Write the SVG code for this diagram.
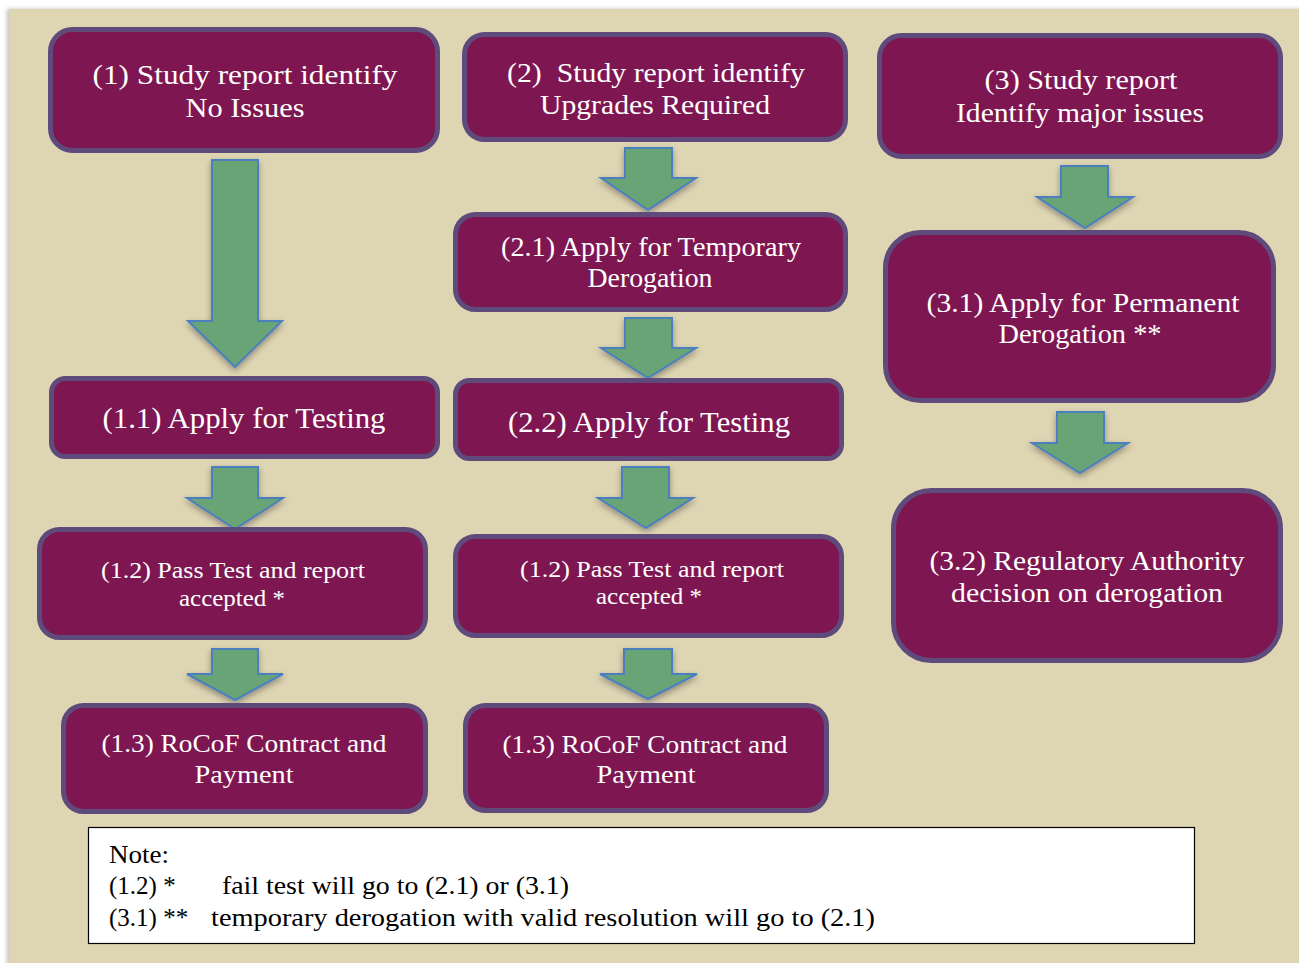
<svg xmlns="http://www.w3.org/2000/svg" width="1299" height="963" viewBox="0 0 1299 963">
<style>
.box{fill:#7E1751;stroke:#5E4A7B;stroke-width:5}
.arr{fill:#68A475;stroke:#4C7FC0;stroke-width:2;stroke-linejoin:miter}
.t{font-family:"Liberation Serif","Times New Roman",serif;fill:#FFFFFF;text-anchor:middle}
.n{font-family:"Liberation Serif","Times New Roman",serif;fill:#000000;font-size:25px}
</style>
<defs>
<filter id="sh" x="-30%" y="-30%" width="160%" height="170%">
<feDropShadow dx="0" dy="3" stdDeviation="3" flood-color="#000" flood-opacity="0.35"/>
</filter>
<filter id="pg" x="-5%" y="-5%" width="110%" height="110%">
<feDropShadow dx="-2" dy="0" stdDeviation="2" flood-color="#000" flood-opacity="0.25"/>
</filter>
</defs>
<rect x="0" y="0" width="1299" height="963" fill="#FFFFFF"/>
<rect x="9" y="9" width="1300" height="970" fill="#DED5B3" filter="url(#pg)"/>

<g id="connectors">
<polygon class="arr" filter="url(#sh)" points="212,160 258,160 258,321 282,321 235,367 188,321 212,321"/>
<polygon class="arr" filter="url(#sh)" points="212,467 258,467 258,498 283,498 235,529 187,498 212,498"/>
<polygon class="arr" filter="url(#sh)" points="212,649 258,649 258,674 283,674 235,700 187,674 212,674"/>
<polygon class="arr" filter="url(#sh)" points="625,148 672,148 672,178 696,178 648,210 601,178 625,178"/>
<polygon class="arr" filter="url(#sh)" points="625,318 672,318 672,348 696,348 648,378 601,348 625,348"/>
<polygon class="arr" filter="url(#sh)" points="622,467 669,467 669,498 693,498 646,528 598,498 622,498"/>
<polygon class="arr" filter="url(#sh)" points="624,649 672,649 672,674 697,674 648,699 600,674 624,674"/>
<polygon class="arr" filter="url(#sh)" points="1061,166 1108,166 1108,197 1133,197 1085,228 1037,197 1061,197"/>
<polygon class="arr" filter="url(#sh)" points="1057,412 1104,412 1104,443 1128,443 1080,473 1032,443 1057,443"/>
</g>

<g id="n1">
<rect class="box" x="50.5" y="29.5" width="387" height="121" rx="22"/>
<text class="t" font-size="27" x="245" y="84" textLength="305" lengthAdjust="spacingAndGlyphs">(1) Study report identify</text>
<text class="t" font-size="27" x="245" y="117" textLength="119" lengthAdjust="spacingAndGlyphs">No Issues</text>
</g>
<g id="n2">
<rect class="box" x="464.5" y="34.5" width="381" height="105" rx="20"/>
<text class="t" font-size="27" x="656" y="82" textLength="298" lengthAdjust="spacingAndGlyphs" style="white-space:pre">(2)  Study report identify</text>
<text class="t" font-size="27" x="655" y="114" textLength="230" lengthAdjust="spacingAndGlyphs">Upgrades Required</text>
</g>
<g id="n3">
<rect class="box" x="879.5" y="35.5" width="401" height="121" rx="22"/>
<text class="t" font-size="27" x="1081" y="89" textLength="193" lengthAdjust="spacingAndGlyphs">(3) Study report</text>
<text class="t" font-size="27" x="1080" y="122" textLength="248" lengthAdjust="spacingAndGlyphs">Identify major issues</text>
</g>
<g id="n21">
<rect class="box" x="455.5" y="214.5" width="390" height="95" rx="20"/>
<text class="t" font-size="27" x="651" y="256" textLength="300" lengthAdjust="spacingAndGlyphs">(2.1) Apply for Temporary</text>
<text class="t" font-size="27" x="650" y="287" textLength="125" lengthAdjust="spacingAndGlyphs">Derogation</text>
</g>
<g id="n31">
<rect class="box" x="885.5" y="232.5" width="388" height="168" rx="35"/>
<text class="t" font-size="27" x="1083" y="312" textLength="313" lengthAdjust="spacingAndGlyphs">(3.1) Apply for Permanent</text>
<text class="t" font-size="27" x="1080" y="343" textLength="163" lengthAdjust="spacingAndGlyphs">Derogation **</text>
</g>
<g id="n11">
<rect class="box" x="51.5" y="378.5" width="386" height="78" rx="14"/>
<text class="t" font-size="30" x="244" y="428" textLength="283" lengthAdjust="spacingAndGlyphs">(1.1) Apply for Testing</text>
</g>
<g id="n22">
<rect class="box" x="455.5" y="380.5" width="386" height="78" rx="14"/>
<text class="t" font-size="30" x="649" y="432" textLength="282" lengthAdjust="spacingAndGlyphs">(2.2) Apply for Testing</text>
</g>
<g id="n32">
<rect class="box" x="893.5" y="490.5" width="387" height="170" rx="38"/>
<text class="t" font-size="27" x="1087" y="570" textLength="315" lengthAdjust="spacingAndGlyphs">(3.2) Regulatory Authority</text>
<text class="t" font-size="27" x="1087" y="602" textLength="272" lengthAdjust="spacingAndGlyphs">decision on derogation</text>
</g>
<g id="n12a">
<rect class="box" x="39.5" y="529.5" width="386" height="108" rx="20"/>
<text class="t" font-size="23" x="233" y="578" textLength="264" lengthAdjust="spacingAndGlyphs">(1.2) Pass Test and report</text>
<text class="t" font-size="23" x="232" y="606" textLength="106" lengthAdjust="spacingAndGlyphs">accepted *</text>
</g>
<g id="n12b">
<rect class="box" x="455.5" y="536.5" width="386" height="99" rx="20"/>
<text class="t" font-size="23" x="652" y="577" textLength="264" lengthAdjust="spacingAndGlyphs">(1.2) Pass Test and report</text>
<text class="t" font-size="23" x="649" y="604" textLength="106" lengthAdjust="spacingAndGlyphs">accepted *</text>
</g>
<g id="n13a">
<rect class="box" x="63.5" y="705.5" width="362" height="106" rx="20"/>
<text class="t" font-size="25" x="244" y="752" textLength="285" lengthAdjust="spacingAndGlyphs">(1.3) RoCoF Contract and</text>
<text class="t" font-size="25" x="244" y="783" textLength="99" lengthAdjust="spacingAndGlyphs">Payment</text>
</g>
<g id="n13b">
<rect class="box" x="465.5" y="705.5" width="361" height="105" rx="20"/>
<text class="t" font-size="25" x="645" y="753" textLength="285" lengthAdjust="spacingAndGlyphs">(1.3) RoCoF Contract and</text>
<text class="t" font-size="25" x="646" y="783" textLength="99" lengthAdjust="spacingAndGlyphs">Payment</text>
</g>

<g id="note">
<rect x="88.5" y="827.5" width="1106" height="116" fill="#FFFFFF" stroke="#000000" stroke-width="1.2"/>
<text class="n" x="109" y="863" textLength="60" lengthAdjust="spacingAndGlyphs">Note:</text>
<text class="n" x="109" y="894">(1.2) *</text>
<text class="n" x="222" y="894" textLength="347" lengthAdjust="spacingAndGlyphs">fail test will go to (2.1) or (3.1)</text>
<text class="n" x="109" y="926">(3.1) **</text>
<text class="n" x="211" y="926" textLength="664" lengthAdjust="spacingAndGlyphs">temporary derogation with valid resolution will go to (2.1)</text>
</g>
</svg>
